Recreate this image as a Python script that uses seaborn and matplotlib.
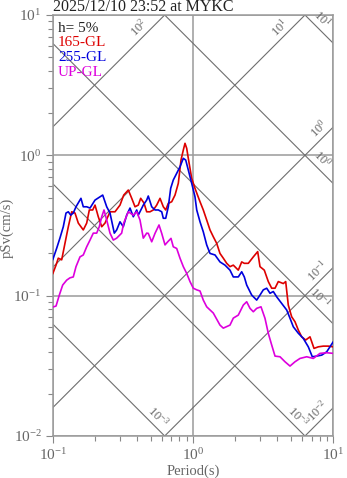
import numpy as np
import pandas as pd
import matplotlib
matplotlib.use("Agg")
import matplotlib.pyplot as plt
from matplotlib.ticker import LogLocator, NullFormatter, LogFormatterSciNotation
import seaborn as sns

# ---------------------------------------------------------------------------
# Data: 5%-damped pseudo-velocity response spectra
# ---------------------------------------------------------------------------
title = "2025/12/10 23:52 at MYKC"
damping_label = "h= 5%"
components = ["165-GL", "255-GL", "UP-GL"]
colors = ["#dd0000", "#0000dd", "#dd00dd"]

period_165 = [0.1, 0.1056, 0.1096, 0.1159, 0.1224, 0.1292, 0.1366, 0.1442, 0.1522, 0.1652,
              0.1747, 0.1824, 0.1928, 0.2003, 0.2113, 0.2236, 0.236, 0.2561, 0.278, 0.3018,
              0.3207, 0.3459, 0.3658, 0.3862, 0.4074, 0.4238, 0.4474, 0.4677, 0.4937, 0.5212,
              0.5512, 0.582, 0.6143, 0.639, 0.6668, 0.705, 0.7443, 0.7857, 0.8214, 0.853,
              0.877, 0.9018, 0.9258, 0.9788, 1.033, 1.122, 1.184, 1.252, 1.322, 1.395,
              1.475, 1.557, 1.644, 1.739, 1.835, 1.938, 2.103, 2.224, 2.321, 2.479,
              2.691, 2.891, 3.003, 3.222, 3.441, 3.638, 3.842, 4.055, 4.401, 4.578,
              4.777, 5.05, 5.333, 5.63, 5.953, 6.358, 6.822, 7.286, 7.82, 8.488,
              9.21, 10.0]
psv_165 = [0.143, 0.165, 0.185, 0.180, 0.237, 0.310, 0.396, 0.388, 0.329, 0.294,
           0.329, 0.408, 0.408, 0.442, 0.365, 0.310, 0.329, 0.396, 0.396, 0.442,
           0.521, 0.566, 0.494, 0.430, 0.442, 0.494, 0.457, 0.396, 0.396, 0.408,
           0.442, 0.494, 0.430, 0.408, 0.455, 0.467, 0.521, 0.632, 0.926, 1.091,
           1.218, 1.122, 0.952, 0.686, 0.582, 0.467, 0.408, 0.346, 0.294, 0.263,
           0.236, 0.200, 0.185, 0.170, 0.161, 0.165, 0.152, 0.174, 0.170, 0.170,
           0.189, 0.206, 0.161, 0.152, 0.126, 0.113, 0.113, 0.126, 0.122, 0.126,
           0.0857, 0.0707, 0.0652, 0.0569, 0.0509, 0.0483, 0.0509, 0.0421, 0.0432, 0.0437,
           0.0437, 0.0432]

period_255 = [0.1, 0.1068, 0.1127, 0.119, 0.1244, 0.1292, 0.1344, 0.1402, 0.1466, 0.159,
              0.1652, 0.1747, 0.1845, 0.2003, 0.2272, 0.2426, 0.2561, 0.2748, 0.2858, 0.3018,
              0.3185, 0.3368, 0.3556, 0.3754, 0.397, 0.4074, 0.4423, 0.4677, 0.48, 0.5078,
              0.5361, 0.5659, 0.5984, 0.6143, 0.639, 0.6668, 0.6934, 0.7236, 0.7651, 0.8078,
              0.853, 0.8872, 0.9258, 0.9788, 1.033, 1.063, 1.122, 1.184, 1.252, 1.322,
              1.435, 1.557, 1.691, 1.835, 1.938, 2.103, 2.224, 2.321, 2.414, 2.62,
              2.844, 3.003, 3.17, 3.352, 3.539, 3.736, 3.951, 4.288, 4.655, 4.914,
              5.188, 5.63, 6.11, 6.635, 7.085, 7.614, 8.267, 8.974, 10.0]
psv_255 = [0.180, 0.218, 0.258, 0.310, 0.388, 0.396, 0.375, 0.388, 0.430, 0.494,
           0.430, 0.430, 0.421, 0.480, 0.521, 0.430, 0.388, 0.279, 0.294, 0.336,
           0.310, 0.375, 0.421, 0.365, 0.408, 0.375, 0.442, 0.480, 0.513, 0.430,
           0.408, 0.408, 0.396, 0.356, 0.356, 0.430, 0.582, 0.667, 0.744, 0.829,
           0.952, 0.926, 0.786, 0.632, 0.507, 0.408, 0.336, 0.285, 0.230, 0.200,
           0.195, 0.174, 0.165, 0.152, 0.136, 0.136, 0.148, 0.136, 0.119, 0.101,
           0.093, 0.101, 0.110, 0.113, 0.104, 0.107, 0.098, 0.088, 0.079, 0.069,
           0.060, 0.054, 0.0496, 0.0432, 0.0367, 0.0371, 0.0377, 0.0398, 0.047]

period_up = [0.1, 0.1056, 0.1115, 0.1178, 0.1258, 0.1328, 0.1402, 0.1466, 0.1565, 0.1652,
             0.1747, 0.1845, 0.1947, 0.2058, 0.2148, 0.2236, 0.2321, 0.2426, 0.2561, 0.2704,
             0.2858, 0.3101, 0.3207, 0.3459, 0.3754, 0.397, 0.419, 0.4423, 0.4677, 0.48,
             0.5078, 0.5361, 0.5724, 0.5984, 0.6317, 0.6603, 0.6969, 0.7236, 0.7651, 0.8078,
             0.853, 0.9018, 0.952, 1.005, 1.063, 1.122, 1.184, 1.252, 1.395, 1.557,
             1.644, 1.835, 1.938, 2.103, 2.283, 2.414, 2.549, 2.691, 2.844, 3.053,
             3.26, 3.441, 3.638, 3.842, 4.17, 4.527, 4.914, 5.333, 5.789, 6.463,
             7.202, 8.04, 8.974, 10.0]
psv_up = [0.0829, 0.0843, 0.101, 0.119, 0.129, 0.134, 0.136, 0.161, 0.189, 0.195,
          0.223, 0.249, 0.279, 0.279, 0.310, 0.365, 0.408, 0.346, 0.279, 0.249,
          0.257, 0.279, 0.329, 0.396, 0.375, 0.396, 0.346, 0.257, 0.279, 0.278,
          0.242, 0.278, 0.319, 0.278, 0.230, 0.242, 0.256, 0.223, 0.217, 0.185,
          0.161, 0.144, 0.126, 0.113, 0.110, 0.108, 0.093, 0.0833, 0.0752, 0.0617,
          0.0587, 0.0617, 0.0692, 0.0727, 0.0857, 0.0905, 0.0812, 0.0768, 0.0812, 0.0833,
          0.0689, 0.0539, 0.0445, 0.0371, 0.0367, 0.0338, 0.0315, 0.0338, 0.0357, 0.0367,
          0.0357, 0.0388, 0.0392, 0.0388]

# tripartite guide lines: decades of pseudo-acceleration (cm/s^2) and displacement (cm)
acc_exponents = [-2, -1, 0, 1, 2]
acc_texts = [r"$10^{-2}$", r"$10^{-1}$", r"$10^{0}$", r"$10^{1}$", r"$10^{2}$"]
disp_exponents = [-3, -2, -1, 0, 1]
disp_texts = [r"$10^{-3}$", r"$10^{-3}$", r"$10^{-1}$", r"$10^{0}$", r"$10^{1}$"]

x_limits = (0.1, 10.0)
y_limits = (0.01, 10.0)

# ---------------------------------------------------------------------------
# Style
# ---------------------------------------------------------------------------
sns.set_style("ticks")
plt.rcParams["font.family"] = ["Liberation Serif", "DejaVu Serif"]
plt.rcParams["mathtext.fontset"] = "custom"
plt.rcParams["mathtext.rm"] = "Liberation Serif"
plt.rcParams["mathtext.it"] = "Liberation Serif:italic"
plt.rcParams["mathtext.bf"] = "Liberation Serif:bold"

GRID = "#9a9a9a"
DIAG = "#6e6e6e"
TXT = "#666666"

fig = plt.figure(figsize=(3.47, 4.78), dpi=100)
ax = fig.add_axes([52.7 / 347, 42 / 478, (333.3 - 52.7) / 347, (436 - 15) / 478])

df = pd.concat([
    pd.DataFrame({"Period": period_165, "pSv": psv_165, "comp": components[0]}),
    pd.DataFrame({"Period": period_255, "pSv": psv_255, "comp": components[1]}),
    pd.DataFrame({"Period": period_up, "pSv": psv_up, "comp": components[2]}),
], ignore_index=True)

ax.set_xscale("log")
ax.set_yscale("log")
ax.set_xlim(*x_limits)
ax.set_ylim(*y_limits)

# tripartite guide lines
LOG2PI = np.log10(2 * np.pi)
T_line = np.logspace(-1, 1, 200)
for k in acc_exponents:
    ax.plot(T_line, 10.0 ** k * T_line / (2 * np.pi), color=DIAG, lw=0.8, zorder=1.5)
for m in disp_exponents:
    ax.plot(T_line, 2 * np.pi * 10.0 ** m / T_line, color=DIAG, lw=0.8, zorder=1.5)

r2 = np.sqrt(0.5)
label_kw = dict(textcoords="offset pixels", ha="right", va="bottom",
                rotation_mode="anchor", fontsize=9, color=TXT, annotation_clip=False)
for k, lab in zip(acc_exponents, acc_texts):
    lt = 1.0 - k + LOG2PI
    if lt <= 1.0:
        xy, s, q = (10 ** lt, 10.0), 18, 1.5
    else:
        xy, s, q = (10.0, 10 ** (k + 1.0 - LOG2PI)), 2, 1.5
    ax.annotate(lab, xy=xy, xytext=(-r2 * (s + q), r2 * (q - s)), rotation=45, **label_kw)
for m, lab in zip(disp_exponents, disp_texts):
    ls = m + LOG2PI - 1.0
    if ls >= -2.0:
        xy, s, q = (10.0, 10 ** ls), 16, 2
    else:
        xy, s, q = (10 ** (m + LOG2PI + 2.0), 0.01), 7, 1.5
    ax.annotate(lab, xy=xy, xytext=(r2 * (q - s), r2 * (s + q)), rotation=-45, **label_kw)

sns.lineplot(data=df, x="Period", y="pSv", hue="comp", hue_order=components,
             palette=dict(zip(components, colors)), sort=False, estimator=None,
             legend=False, lw=1.2, ax=ax, zorder=3)

ax.set_xscale("log")
ax.set_yscale("log")
ax.set_xlim(*x_limits)
ax.set_ylim(*y_limits)

ax.grid(which="major", color=GRID, lw=1.1, zorder=1)
ax.set_axisbelow(True)

for sp in ax.spines.values():
    sp.set_color(GRID)
    sp.set_linewidth(1.1)
    sp.set_visible(True)

for axis in (ax.xaxis, ax.yaxis):
    axis.set_major_locator(LogLocator(base=10, numticks=10))
    axis.set_minor_locator(LogLocator(base=10, subs=np.arange(2, 10), numticks=10))
    axis.set_major_formatter(LogFormatterSciNotation())
    axis.set_minor_formatter(NullFormatter())

ax.tick_params(which="both", direction="out", color="#888888", labelcolor=TXT,
               top=False, right=False, labelsize=11, width=0.8)
ax.tick_params(which="major", length=5, pad=3)
ax.tick_params(which="minor", length=3.5)

ax.set_xlabel("Period(s)", color=TXT, fontsize=10.5, labelpad=1)
ax.set_ylabel("pSv(cm/s)", color=TXT, fontsize=10.5)
ax.yaxis.set_label_coords((14 - 52.7) / 280.6, 0.495)

fig.text(53 / 347, 1 - 11 / 478, title, ha="left", va="baseline", fontsize=11.5, color="#222222")

legend_y = [32, 46.5, 61, 75.5]
legend_texts = [damping_label] + components
legend_colors = ["#222222"] + colors
for yy, txt, col in zip(legend_y, legend_texts, legend_colors):
    ax.text((58 - 52.7) / 280.6, 1 - (yy - 15) / 421, txt,
            transform=ax.transAxes, ha="left", va="baseline", fontsize=11, color=col)

fig.savefig("out.png", dpi=100)
